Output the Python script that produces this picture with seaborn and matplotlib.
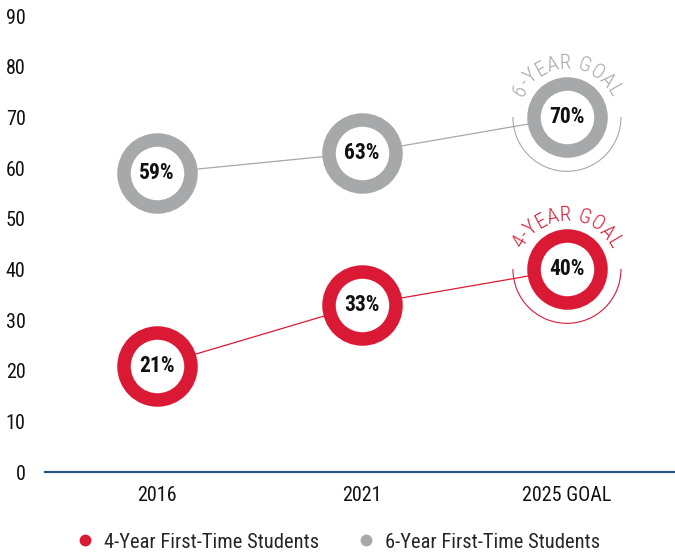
import numpy as np
import pandas as pd
import matplotlib
matplotlib.use("Agg")
import matplotlib.pyplot as plt
import seaborn as sns
from matplotlib.patches import Arc
from matplotlib.lines import Line2D

categories = ["2016", "2021", "2025 GOAL"]
four_year = [21, 33, 40]
six_year = [59, 63, 70]
series_names = ["4-Year First-Time Students", "6-Year First-Time Students"]
goal_labels = ["4-YEAR GOAL", "6-YEAR GOAL"]
y_ticks = [0, 10, 20, 30, 40, 50, 60, 70, 80, 90]

RED = "#DA1A35"
GRAY = "#A7A8AA"
NAVY = "#27567F"

sns.set_theme(style="white")
plt.rcParams["font.family"] = ["Roboto Condensed", "Liberation Sans Narrow", "DejaVu Sans"]

pos = list(range(len(categories)))
df = pd.DataFrame({
    "pos": pos * 2,
    "value": four_year + six_year,
    "series": [series_names[0]] * 3 + [series_names[1]] * 3,
})
palette = {series_names[0]: RED, series_names[1]: GRAY}

W, H = 675, 557
fig = plt.figure(figsize=(W / 100, H / 100), dpi=100)
ax = fig.add_axes([45 / W, (H - 472) / H, (W - 45) / W, (472 - 16) / H])

# connecting lines
sns.lineplot(data=df, x="pos", y="value", hue="series", palette=palette,
             linewidth=0.9, legend=False, ax=ax, zorder=2)

# rings
px = 0.72  # points per pixel
for name, vals in zip(series_names, [four_year, six_year]):
    sns.scatterplot(x=pos, y=vals, s=(67 * px) ** 2, facecolor="white",
                    edgecolor=palette[name], linewidth=13.5 * px, ax=ax,
                    zorder=3, clip_on=False, legend=False)
    for x, v in zip(pos, vals):
        ax.text(x, v, f"{v}%", ha="center", va="center", fontsize=15.5,
                fontweight="bold", color="#111111", zorder=4)

ax.set_xlim(-0.546, 2.527)
ax.set_ylim(0, 90)
ax.set_xticks(pos)
ax.set_xticklabels(categories)
ax.set_yticks(y_ticks)
ax.set_xlabel("")
ax.set_ylabel("")
ax.tick_params(axis="y", length=0, pad=14, labelsize=14.5, labelcolor="#111111")
ax.tick_params(axis="x", length=0, pad=10, labelsize=14.5, labelcolor="#111111")
for s in ["left", "right", "top"]:
    ax.spines[s].set_visible(False)
ax.spines["bottom"].set_color(NAVY)
ax.spines["bottom"].set_linewidth(1.6)
ax.grid(False)

# goal arcs and curved labels
fig.canvas.draw()
renderer = fig.canvas.get_renderer()
sx = ax.transData.transform((1, 0))[0] - ax.transData.transform((0, 0))[0]
sy = ax.transData.transform((0, 1))[1] - ax.transData.transform((0, 0))[1]
R = 54
for name, vals, label in zip(series_names, [four_year, six_year], goal_labels):
    color = palette[name]
    x0, y0 = pos[-1], vals[-1]
    ax.add_patch(Arc((x0, y0), 2 * R / sx, 2 * R / sy, theta1=164, theta2=376,
                     color=color, linewidth=0.8, clip_on=False, zorder=2))
    widths = []
    for ch in label:
        t = ax.text(0, 0, ch if ch != " " else "n", fontsize=15, fontweight="light")
        widths.append(t.get_window_extent(renderer).width * (0.6 if ch == " " else 1.0))
        t.remove()
    centers = np.cumsum(widths) - np.array(widths) / 2
    start, end = 150, 30
    angles = start + (centers - centers[0]) / (centers[-1] - centers[0]) * (end - start)
    for ch, ang in zip(label, angles):
        a = np.radians(ang)
        ax.annotate(ch, xy=(x0, y0), xytext=(R * np.cos(a) * px, R * np.sin(a) * px),
                    textcoords="offset points", ha="center", va="center",
                    rotation=ang - 90, rotation_mode="anchor", fontsize=15,
                    fontweight="light", color=color, annotation_clip=False, zorder=4)

handles = [Line2D([], [], marker="o", linestyle="", markersize=8.5, color=palette[n],
                  markeredgewidth=0) for n in series_names]
fig.legend(handles, series_names, loc="center", bbox_to_anchor=(0.5, 1 - 542 / H),
           ncol=2, frameon=False, fontsize=14.8, handletextpad=0.4, columnspacing=1.8,
           handlelength=1.0)

fig.savefig("out.png", dpi=100)
